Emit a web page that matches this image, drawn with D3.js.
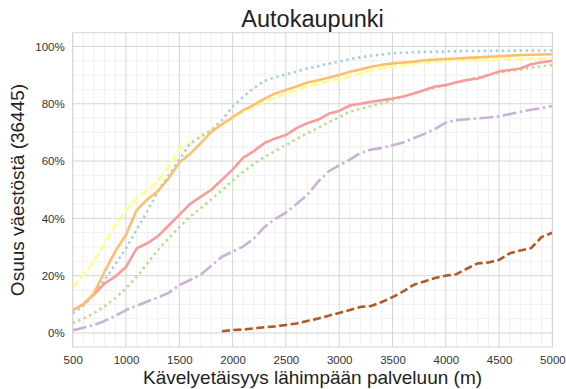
<!DOCTYPE html>
<html>
<head>
<meta charset="utf-8">
<script src="https://cdn.jsdelivr.net/npm/d3@7"></script>
<style>
  body { margin: 0; background: #fff; }
  text { font-family: "Liberation Sans", Arial, sans-serif; }
</style>
</head>
<body>
<div id="chart"></div>
<script>
// Data (share of population, %), distance steps of 100 m
const distances = d3.range(500, 5001, 100);
const yellowValues = [16, 20, 25, 31.5, 37.5, 42.8, 47, 49.8, 53, 58, 64, 66.2, 68.5, 71, 73, 75.3, 77.2, 79, 80.7, 82.2, 83.4, 84.8, 86.2, 87, 87.8, 88.5, 89.5, 90.6, 91.6, 92.3, 92.9, 93.5, 94, 94.4, 94.7, 95, 95.1, 95.2, 95.3, 95.4, 95.5, 95.6, 95.7, 95.7, 95.8, 95.8];
const orangeValues = [8, 10, 13.8, 21.5, 28.5, 34.3, 42.9, 46.6, 49.5, 54, 59.5, 62.5, 66.2, 70.2, 72.8, 75.3, 77.8, 79.6, 81.8, 83.6, 84.8, 86, 87.4, 88.2, 89.1, 90, 91.2, 92, 92.9, 93.6, 94.1, 94.4, 94.7, 95.2, 95.4, 95.6, 95.8, 96, 96.2, 96.4, 96.6, 96.8, 97, 97.1, 97.2, 97.3];
const blueValues = [6.9, 9.5, 13.6, 18.5, 24, 29.5, 36, 42.5, 49.5, 55, 60.5, 66, 68.5, 70.8, 74.3, 79, 82.5, 85.5, 88, 89.3, 90.2, 91.2, 92.3, 93.1, 94, 94.7, 95.6, 96.2, 96.8, 97.2, 97.6, 97.8, 98, 98.1, 98.2, 98.2, 98.3, 98.4, 98.4, 98.5, 98.5, 98.5, 98.6, 98.6, 98.6, 98.6];
const redValues = [8, 10, 13.5, 17.3, 19.7, 23, 29.5, 31.3, 33.8, 37.5, 41.2, 45, 47.5, 50, 53.5, 57, 61.2, 63.5, 66.3, 67.9, 69.1, 71.5, 73.2, 74.4, 76.5, 77.5, 79.4, 80, 80.7, 81.2, 81.8, 82.5, 83.6, 84.8, 86, 86.5, 87.5, 88.3, 88.8, 90, 91.3, 91.8, 92.3, 93.8, 94.5, 95];
const greenValues = [3.4, 5, 6.9, 9.3, 12.2, 15.6, 19.6, 24.3, 29, 33, 37, 40.6, 43.5, 46.6, 49.8, 53.2, 56.3, 59, 61.5, 63.5, 65.6, 67.7, 69.7, 71.5, 73.5, 75.3, 77.2, 78.2, 79.2, 80.2, 81.3, 82.4, 83.7, 84.6, 85.6, 86.5, 87.5, 88.3, 89.2, 90, 90.9, 91.5, 92, 92.6, 93.1, 93.5];
const purpleValues = [0.9, 1.8, 2.8, 4.2, 6, 8, 9.5, 11, 12.4, 14, 16.7, 18.5, 20.3, 23.5, 26.6, 28.4, 30.2, 33, 37, 39.8, 42, 45, 48.2, 52.7, 56.4, 58.5, 60.5, 62.8, 64, 64.6, 65.5, 66.5, 68, 69.5, 71.2, 73.4, 74.3, 74.6, 74.9, 75.2, 75.6, 76.4, 77.2, 77.9, 78.5, 79.2];
const brownDistances = d3.range(1900, 5001, 100);
const brownValues = [0.6, 1, 1.2, 1.6, 2, 2.3, 2.8, 3.3, 4.2, 5, 6, 7, 8, 9.1, 9.4, 10.8, 12.5, 14.5, 16.8, 18, 19.2, 20, 20.5, 22.5, 24.3, 24.6, 25.5, 27.8, 28.8, 29.6, 33.5, 35];
const xTicks = [500, 1000, 1500, 2000, 2500, 3000, 3500, 4000, 4500, 5000];
const yTicks = [0, 20, 40, 60, 80, 100];

const series = [
  { x: distances, y: yellowValues, color: "#ffff85", dash: "8,3.5" },
  { x: distances, y: blueValues, color: "#a6cee3", dash: "2.4,3.6" },
  { x: distances, y: greenValues, color: "#b2df8a", dash: "2.4,3.6" },
  { x: distances, y: redValues, color: "#fb9a99", dash: null },
  { x: distances, y: orangeValues, color: "#fdbf6f", dash: null },
  { x: distances, y: purpleValues, color: "#cab2d6", dash: "14,3.5,2.4,3.5" },
  { x: brownDistances, y: brownValues, color: "#b15928", dash: "8,3.5" }
];

// Create the chart
const width = 566;
const height = 389;
const plotLeft = 72.7, plotRight = 552.4, plotTop = 32.7, plotBottom = 347;
const svg = d3.select("#chart")
  .append("svg")
  .attr("width", width)
  .attr("height", height);

// Create the scales
const x = d3.scaleLinear()
  .domain([500, 5000])
  .range([plotLeft, plotRight]);
const y = d3.scaleLinear()
  .domain([-4.9, 104.8])
  .range([plotBottom, plotTop]);

// Grid: minor then major
const grid = svg.append("g");
grid.selectAll(".minor-x")
  .data(d3.range(500, 5001, 100).filter(v => v % 500 !== 0))
  .join("line")
  .attr("x1", d => x(d)).attr("x2", d => x(d))
  .attr("y1", plotTop).attr("y2", plotBottom)
  .attr("stroke", "#ececec").attr("stroke-width", 0.8);
grid.selectAll(".minor-y")
  .data(d3.range(0, 101, 5).filter(v => v % 20 !== 0))
  .join("line")
  .attr("x1", plotLeft).attr("x2", plotRight)
  .attr("y1", d => y(d)).attr("y2", d => y(d))
  .attr("stroke", "#ececec").attr("stroke-width", 0.8);
grid.selectAll(".major-x")
  .data(xTicks)
  .join("line")
  .attr("x1", d => x(d)).attr("x2", d => x(d))
  .attr("y1", plotTop).attr("y2", plotBottom)
  .attr("stroke", "#d5d5d5").attr("stroke-width", 1);
grid.selectAll(".major-y")
  .data(yTicks)
  .join("line")
  .attr("x1", plotLeft).attr("x2", plotRight)
  .attr("y1", d => y(d)).attr("y2", d => y(d))
  .attr("stroke", "#d5d5d5").attr("stroke-width", 1);

// Draw the lines
const line = d3.line()
  .x(d => x(d[0]))
  .y(d => y(d[1]));

series.forEach(s => {
  svg.append("path")
    .datum(s.x.map((v, i) => [v, s.y[i]]))
    .attr("d", line)
    .attr("fill", "none")
    .attr("stroke", s.color)
    .attr("stroke-width", 2.6)
    .attr("stroke-dasharray", s.dash)
    .attr("stroke-linejoin", "round");
});

// Frame
svg.append("rect")
  .attr("x", plotLeft).attr("y", plotTop)
  .attr("width", plotRight - plotLeft).attr("height", plotBottom - plotTop)
  .attr("fill", "none")
  .attr("stroke", "#d5d5d5")
  .attr("stroke-width", 1);

// Add the axes
const xAxis = svg.append("g")
  .attr("transform", `translate(0, ${plotBottom})`)
  .call(d3.axisBottom(x).tickValues(xTicks).tickSize(0).tickPadding(9).tickFormat(d3.format("d")));
const yAxis = svg.append("g")
  .attr("transform", `translate(${plotLeft}, 0)`)
  .call(d3.axisLeft(y).tickValues(yTicks).tickSize(0).tickPadding(8).tickFormat(d => d + "%"));
[xAxis, yAxis].forEach(g => {
  g.select(".domain").remove();
  g.selectAll("text")
    .attr("fill", "#333")
    .style("font-size", "11.5px")
    .style("font-family", "'Liberation Sans', Arial, sans-serif");
});

// Add the labels
svg.append("text")
  .attr("x", (plotLeft + plotRight) / 2)
  .attr("y", 27)
  .attr("text-anchor", "middle")
  .attr("fill", "#222")
  .style("font-size", "23.5px")
  .text("Autokaupunki");
svg.append("text")
  .attr("x", (plotLeft + plotRight) / 2)
  .attr("y", 384)
  .attr("text-anchor", "middle")
  .attr("fill", "#222")
  .style("font-size", "19px")
  .text("Kävelyetäisyys lähimpään palveluun (m)");
svg.append("text")
  .attr("transform", "rotate(-90)")
  .attr("x", -190)
  .attr("y", 24)
  .attr("text-anchor", "middle")
  .attr("fill", "#222")
  .style("font-size", "19px")
  .text("Osuus väestöstä (36445)");
</script>
</body>
</html>
